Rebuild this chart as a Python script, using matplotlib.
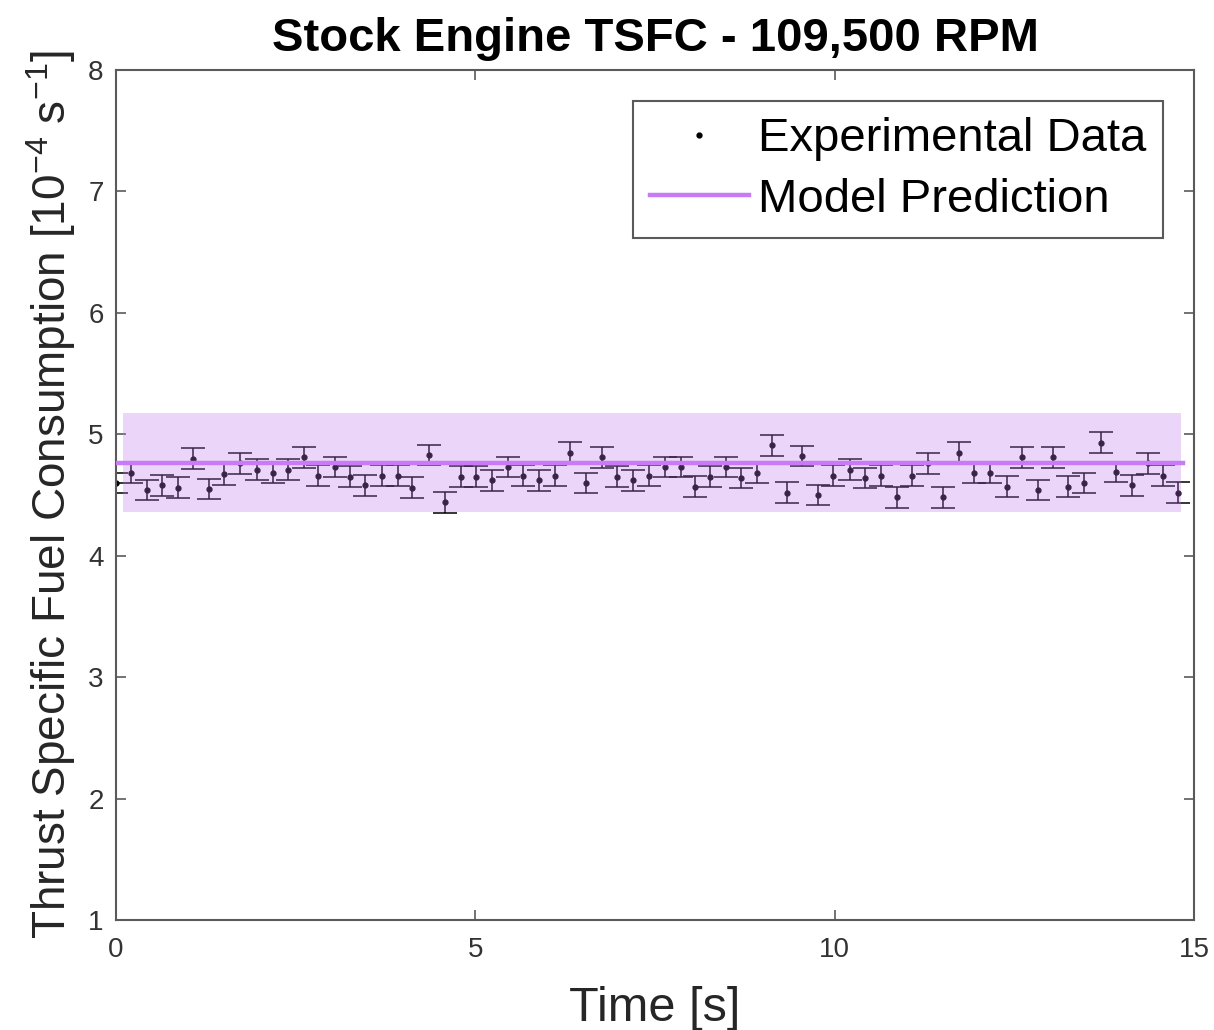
import matplotlib.pyplot as plt
from matplotlib.lines import Line2D
import numpy as np

plt.rcParams['font.family'] = ['Liberation Sans', 'DejaVu Sans']
plt.rcParams['mathtext.fontset'] = 'custom'
plt.rcParams['mathtext.rm'] = 'Liberation Sans'
plt.rcParams['mathtext.it'] = 'Liberation Sans:italic'

time_s = [0.0, 0.21, 0.43, 0.64, 0.86, 1.07, 1.29, 1.50, 1.73, 1.96,
          2.18, 2.39, 2.62, 2.81, 3.05, 3.26, 3.46, 3.70, 3.92, 4.12,
          4.36, 4.58, 4.80, 5.01, 5.23, 5.46, 5.66, 5.89, 6.11, 6.32,
          6.54, 6.76, 6.97, 7.19, 7.42, 7.64, 7.86, 8.06, 8.26, 8.49,
          8.70, 8.92, 9.13, 9.34, 9.55, 9.77, 9.98, 10.21, 10.42, 10.64,
          10.87, 11.08, 11.30, 11.51, 11.73, 11.94, 12.16, 12.40, 12.61, 12.83,
          13.04, 13.25, 13.47, 13.71, 13.91, 14.14, 14.36, 14.57, 14.78]
tsfc = [4.60, 4.68, 4.54, 4.58, 4.56, 4.80, 4.55, 4.67, 4.76, 4.71,
        4.68, 4.71, 4.81, 4.66, 4.73, 4.65, 4.58, 4.66, 4.66, 4.56,
        4.83, 4.44, 4.65, 4.65, 4.62, 4.73, 4.66, 4.62, 4.66, 4.85,
        4.60, 4.81, 4.65, 4.62, 4.66, 4.73, 4.73, 4.57, 4.65, 4.73,
        4.64, 4.68, 4.91, 4.52, 4.82, 4.50, 4.66, 4.71, 4.64, 4.66,
        4.48, 4.66, 4.76, 4.48, 4.85, 4.68, 4.68, 4.57, 4.81, 4.54,
        4.81, 4.57, 4.60, 4.93, 4.69, 4.58, 4.76, 4.66, 4.52]
tsfc_err = 0.085

# model prediction and its uncertainty band
model_t = [0.0, 14.85]
model_val = [4.765, 4.765]
band_t = [0.1, 14.82]
band_lo = [4.36, 4.36]
band_hi = [5.175, 5.175]

purple = '#c77cf5'
axis_gray = '#5a5a5a'

fig = plt.figure(figsize=(12.14, 10.30), dpi=100)
ax = fig.add_axes([0.0956, 0.1068, 0.8879, 0.8252])

ax.errorbar(time_s, tsfc, yerr=tsfc_err, fmt='.', color='black',
            markersize=7, elinewidth=1.1, capsize=8.5, capthick=1.1,
            zorder=2)
ax.fill_between(band_t, band_lo, band_hi, color='#c077ee', alpha=0.3,
                linewidth=0, zorder=3)
ax.plot(model_t, model_val, color=purple, linewidth=3.2, zorder=4)

ax.set_xlim(0, 15)
ax.set_ylim(1, 8)
ax.set_xticks([0, 5, 10, 15])
ax.set_yticks(range(1, 9))
ax.tick_params(direction='in', length=7, width=1.2, colors=axis_gray,
               labelsize=20, top=True, right=True, labelcolor='#333333')
ax.tick_params(axis='x', pad=12)
ax.tick_params(axis='y', pad=9)
for sp in ax.spines.values():
    sp.set_color(axis_gray)
    sp.set_linewidth(1.5)

ax.set_xlabel('Time [s]', fontsize=35, color='#262626', labelpad=17)
ax.set_ylabel('Thrust Specific Fuel Consumption [10$^{-4}$ s$^{-1}$]',
              fontsize=33, color='#262626', labelpad=7)
ax.set_title('Stock Engine TSFC - 109,500 RPM', fontsize=34,
             fontweight='bold', pad=14)

handles = [Line2D([], [], linestyle='none', marker='.', color='black',
                  markersize=7),
           Line2D([], [], color=purple, linewidth=3.2)]
labels = ['Experimental Data', 'Model Prediction']
leg = ax.legend(handles, labels, loc='upper right', fontsize=34,
                handlelength=2.1, handletextpad=0.2, borderaxespad=0.65,
                borderpad=0.35, labelspacing=0.35, fancybox=False,
                framealpha=1, edgecolor=axis_gray)
leg.get_frame().set_linewidth(1.5)

fig.savefig('out.png', dpi=100, facecolor='white')
